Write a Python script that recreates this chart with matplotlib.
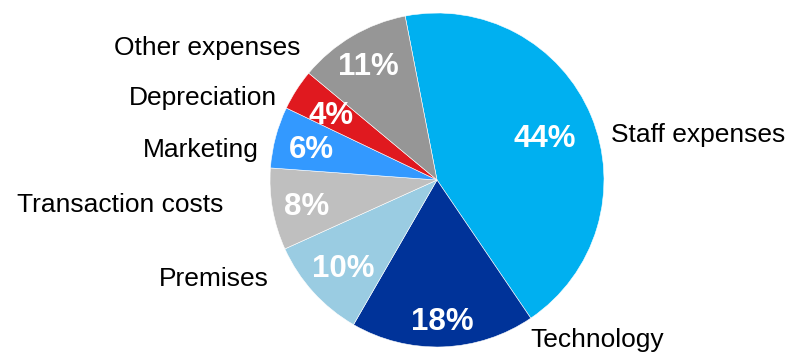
import numpy as np
import matplotlib.pyplot as plt

plt.rcParams['font.family'] = ['Liberation Sans', 'DejaVu Sans']

categories = ['Staff expenses', 'Technology', 'Premises', 'Transaction costs',
              'Marketing', 'Depreciation', 'Other expenses']
shares = [44, 18, 10, 8, 6, 4, 11]
colors = ['#00B0F0', '#003399', '#9ACCE2', '#BFBFBF', '#3399FF', '#E0191F', '#969696']

# label anchor (x, y, horizontal alignment) in pie-radius units
label_pos = [(1.04, 0.27, 'left'), (0.56, -0.96, 'left'), (-1.01, -0.59, 'right'),
             (-1.28, -0.15, 'right'), (-1.07, 0.18, 'right'), (-0.96, 0.49, 'right'),
             (-0.82, 0.79, 'right')]
# distance of each percentage from the centre
pct_dist = [0.70, 0.83, 0.76, 0.79, 0.78, 0.75, 0.81]

fig = plt.figure(figsize=(7.89, 3.54), dpi=100)
ax = fig.add_axes([0, 0, 1, 1])

wedges, texts = ax.pie(
    shares, colors=colors, startangle=101, counterclock=False, radius=1,
    wedgeprops=dict(edgecolor='white', linewidth=0.4))

for w, v, d in zip(wedges, shares, pct_dist):
    mid = np.deg2rad((w.theta1 + w.theta2) / 2)
    ax.text(d * np.cos(mid), d * np.sin(mid), f'{v}%', ha='center',
            va='center_baseline', color='white', fontsize=22.5, fontweight='bold')

for name, (x, y, ha) in zip(categories, label_pos):
    ax.text(x, y, name, ha=ha, va='center', fontsize=19, color='black')

ax.set_aspect('auto')
ax.set_xlim(-437 / 167, (789 - 437) / 167)
ax.set_ylim(-174 / 167, 180 / 167)
ax.axis('off')

fig.savefig('out.png', dpi=100)
